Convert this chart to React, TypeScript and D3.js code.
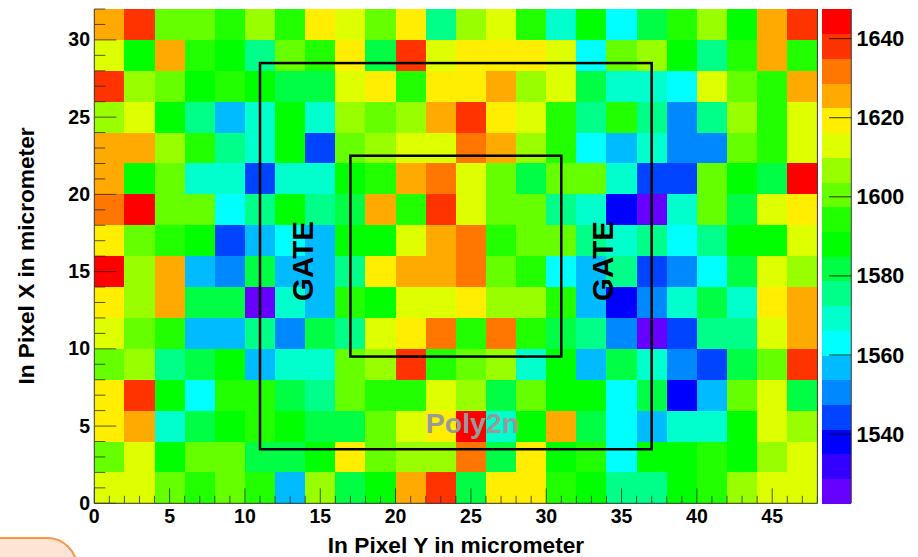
import React from "react";
import * as d3 from "d3";

const W = 918, H = 557;
const palette = ["#6600ff","#3300ff","#0000ff","#0044ff","#0088ff","#00bbff","#00ffff","#00ffcc","#00ff88","#00ff44","#00ff00","#22ff00","#66ff00","#99ff00","#ddff00","#ffee00","#ffaa00","#ff7700","#ff3300","#ff0000"];
const zMin = 1522.5, zMax = 1647.5;
const colorbarTicks = [1540, 1560, 1580, 1600, 1620, 1640];
const xTicks = [0, 5, 10, 15, 20, 25, 30, 35, 40, 45];
const yTicks = [0, 5, 10, 15, 20, 25, 30];
const xMax = 48, yMax = 32, binSize = 2;

// rows listed from the top of the map (Pixel X 30-32) to the bottom (0-2)
const row15 = [1626,1638,1601,1601,1594,1607,1594,1619,1613,1601,1619,1576,1607,1613,1594,1569,1588,1563,1582,1594,1607,1588,1626,1638];
const row14 = [1613,1588,1626,1594,1588,1576,1601,1594,1619,1582,1638,1613,1619,1619,1619,1613,1563,1601,1607,1588,1576,1594,1626,1594];
const row13 = [1638,1607,1601,1588,1594,1588,1582,1582,1613,1619,1594,1619,1619,1626,1607,1613,1582,1569,1569,1563,1613,1601,1594,1626];
const row12 = [1607,1613,1588,1576,1557,1569,1588,1569,1607,1601,1607,1626,1638,1619,1613,1594,1576,1594,1576,1551,1576,1607,1594,1613];
const row11 = [1626,1626,1607,1594,1576,1569,1588,1544,1601,1607,1613,1613,1632,1626,1607,1594,1563,1557,1569,1551,1551,1601,1594,1613];
const row10 = [1626,1588,1601,1569,1569,1544,1569,1569,1588,1594,1626,1632,1613,1601,1582,1601,1601,1569,1544,1544,1601,1588,1582,1644];
const row9 = [1632,1644,1601,1601,1563,1576,1588,1576,1582,1626,1594,1638,1613,1601,1601,1576,1569,1538,1526,1569,1601,1582,1613,1619];
const row8 = [1619,1601,1594,1588,1544,1557,1563,1557,1588,1588,1613,1626,1632,1594,1601,1601,1576,1569,1576,1563,1576,1588,1588,1613];
const row7 = [1644,1607,1626,1557,1551,1582,1557,1557,1576,1619,1626,1626,1632,1601,1594,1563,1557,1576,1544,1551,1563,1582,1613,1607];
const row6 = [1619,1607,1626,1582,1582,1526,1569,1557,1594,1588,1613,1613,1619,1607,1607,1594,1557,1538,1551,1569,1582,1569,1619,1626];
const row5 = [1613,1601,1594,1557,1557,1576,1551,1582,1576,1613,1619,1632,1594,1632,1594,1582,1576,1551,1526,1544,1576,1576,1613,1626];
const row4 = [1601,1607,1576,1582,1588,1557,1569,1569,1601,1607,1638,1594,1601,1607,1569,1588,1557,1582,1569,1551,1544,1582,1601,1638];
const row3 = [1619,1638,1588,1563,1594,1594,1582,1576,1601,1594,1594,1613,1607,1582,1601,1588,1588,1563,1582,1538,1557,1601,1613,1582];
const row2 = [1619,1626,1569,1582,1588,1594,1588,1582,1582,1601,1613,1619,1644,1569,1588,1626,1582,1563,1557,1569,1569,1588,1613,1607];
const row1 = [1601,1613,1588,1601,1601,1582,1582,1588,1619,1601,1607,1607,1632,1582,1619,1588,1594,1563,1588,1588,1594,1588,1607,1613];
const row0 = [1613,1613,1601,1594,1601,1594,1557,1607,1582,1588,1626,1638,1582,1619,1619,1594,1588,1576,1576,1588,1594,1607,1613,1613];
const rows = [row15,row14,row13,row12,row11,row10,row9,row8,row7,row6,row5,row4,row3,row2,row1,row0];

const outerGate = { x0: 11, x1: 37, y0: 3.5, y1: 28.5 };
const innerGate = { x0: 17, x1: 31, y0: 9.5, y1: 22.5 };

const FONT = "'Liberation Sans', Arial, sans-serif";
const plot = { l: 94.3, r: 817.4, t: 9, b: 503.3 };
const bar = { l: 822, r: 851.3 };
const AXIS = "#3a3a3a";

export default function App() {
  const x = d3.scaleLinear().domain([0, xMax]).range([plot.l, plot.r]);
  const y = d3.scaleLinear().domain([0, yMax]).range([plot.b, plot.t]);
  const z = d3.scaleLinear().domain([zMin, zMax]).range([plot.b, plot.t]);
  const color = d3.scaleQuantize<string>().domain([zMin, zMax]).range(palette);
  const step = (zMax - zMin) / palette.length;
  const xMinor = d3.range(0, xMax + 1);
  const yMinor = d3.range(0, yMax + 1);
  const gate = (g: typeof outerGate) => ({
    x: x(g.x0), y: y(g.y1), width: x(g.x1) - x(g.x0), height: y(g.y0) - y(g.y1),
  });
  return (
    <svg width={W} height={H} viewBox={`0 0 ${W} ${H}`} style={{ position: "absolute", left: 0, top: 0, display: "block", background: "#fff" }} fontFamily={FONT}>
      <g shapeRendering="crispEdges">
        {rows.map((row, i) => row.map((v, j) => {
          const yTop = yMax - i * binSize;
          return <rect key={`${i}-${j}`} x={x(j * binSize)} y={y(yTop)} width={x(binSize) - x(0) + 0.5} height={y(0) - y(binSize) + 0.5} fill={color(v)} />;
        }))}
      </g>
      {/* axis ticks */}
      <g stroke="#222" strokeWidth={1} strokeOpacity={0.75}>
        {xMinor.map(t => <line key={t} x1={x(t)} x2={x(t)} y1={plot.b} y2={plot.b - (t % 5 === 0 ? 15 : 7.5)} />)}
        {yMinor.map(t => <line key={t} x1={plot.l} x2={plot.l + (t % 5 === 0 ? 22 : 11)} y1={y(t)} y2={y(t)} />)}
      </g>
      <g stroke={AXIS} strokeWidth={1} fill="none">
        <line x1={plot.l} x2={plot.l} y1={plot.t} y2={plot.b} />
        <line x1={plot.l} x2={plot.r} y1={plot.b} y2={plot.b} />
        <line x1={plot.r} x2={plot.r} y1={plot.t} y2={plot.b} />
      </g>
      {/* gates */}
      <g fill="none" stroke="#000" strokeWidth={2.5}>
        <rect {...gate(outerGate)} />
        <rect {...gate(innerGate)} />
      </g>
      {/* annotations */}
      <g fontWeight="bold" fontSize={29.5} fill="#000">
        <text transform={`translate(313,261) rotate(-90)`} textAnchor="middle">GATE</text>
        <text transform={`translate(613,261) rotate(-90)`} textAnchor="middle">GATE</text>
        <text x={472.5} y={433} textAnchor="middle" fontSize={28.5} fill="#999999">Poly2n</text>
      </g>
      {/* tick labels */}
      <g fontWeight="bold" fontSize={19.5} fill="#000">
        {xTicks.map(t => <text key={t} x={x(t)} y={523} textAnchor="middle">{t}</text>)}
        {yTicks.map(t => <text key={t} x={90} y={y(t) + 6.5} textAnchor="end">{t}</text>)}
      </g>
      {/* axis titles */}
      <g fontWeight="bold" fontSize={22.7} fill="#000">
        <text x={456} y={553} textAnchor="middle">In Pixel Y in micrometer</text>
        <text transform={`translate(34,256) rotate(-90)`} textAnchor="middle">In Pixel X in micrometer</text>
      </g>
      {/* colour bar */}
      <g shapeRendering="crispEdges">
        {palette.map((c, i) => (
          <rect key={c} x={bar.l} width={bar.r - bar.l} y={z(zMin + (i + 1) * step)} height={z(zMin) - z(step + zMin) + 0.5} fill={c} />
        ))}
      </g>
      <line x1={bar.r} x2={bar.r} y1={plot.t} y2={plot.b} stroke={AXIS} strokeWidth={1} />
      {colorbarTicks.map(t => (
        <g key={t}>
          <line x1={829} x2={bar.r} y1={z(t)} y2={z(t)} stroke="#111" strokeOpacity={0.85} />
          <text x={856.5} y={z(t) + 7.5} fontWeight="bold" fontSize={21.5} fill="#000">{t}</text>
        </g>
      ))}
      {/* cropped callout in the corner */}
      <rect x={-60} y={538} width={137} height={60} rx={30} ry={30} fill="#fde5d6" stroke="#f79646" strokeWidth={2} />
    </svg>
  );
}
